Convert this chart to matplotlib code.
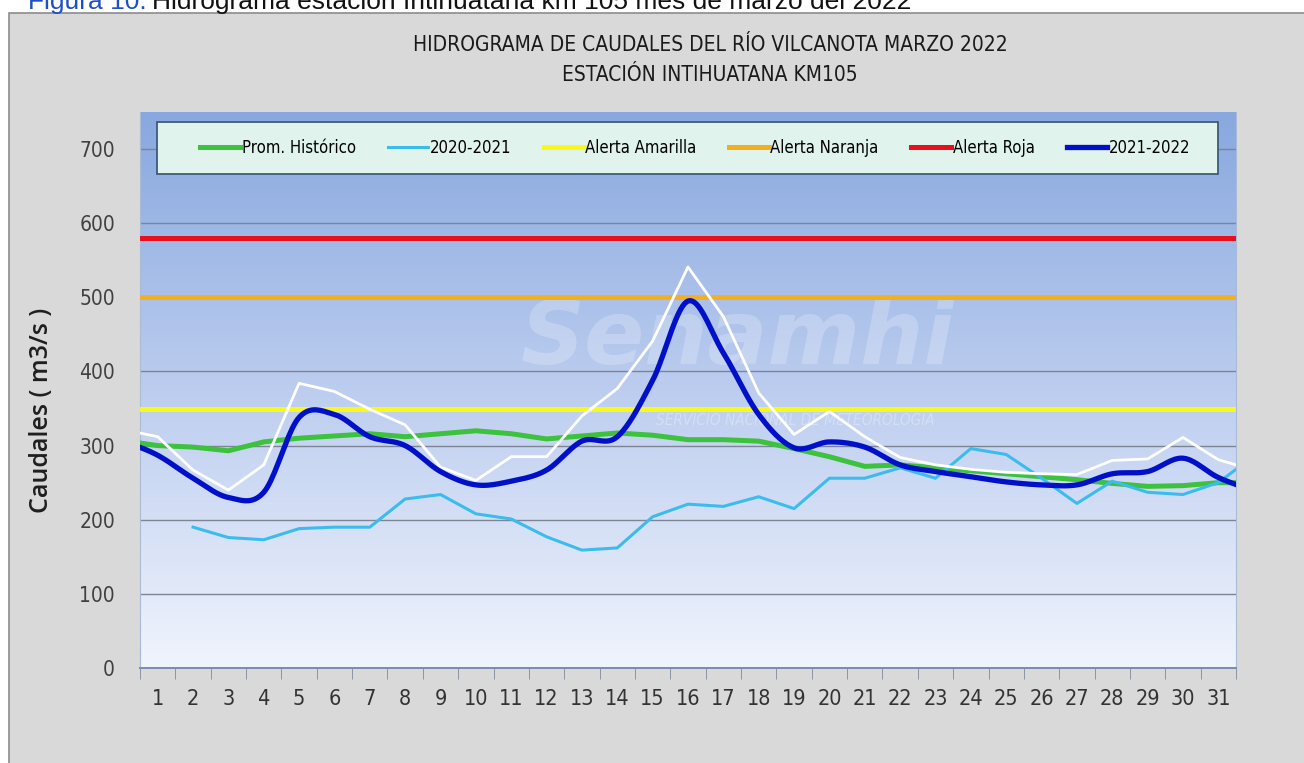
import numpy as np
import matplotlib.pyplot as plt
from matplotlib.patches import Rectangle

# dia 0 y dia 32 son los puntos de borde: el grafico se corta en 0.5 y 31.5
dias = np.arange(0, 33)
etiquetas = [str(d) for d in range(1, 32)]

prom_historico = [307, 300, 298, 293, 305, 310, 313, 316, 312, 316, 320, 316, 309, 313, 317, 314,
                  308, 308, 306, 296, 285, 272, 274, 270, 266, 262, 258, 254, 249, 245, 246, 250, 250]
caudal_2020_2021 = [np.nan, np.nan, 190, 176, 173, 188, 190, 190, 228, 234, 208, 201, 177, 159, 162,
                    204, 221, 218, 231, 215, 256, 256, 270, 256, 296, 288, 256, 222, 252, 237, 234,
                    250, 286]
caudal_2021_2022 = [307, 287, 256, 230, 237, 338, 342, 312, 300, 265, 247, 252, 267, 306, 312, 388,
                    495, 425, 342, 297, 305, 298, 274, 265, 258, 251, 247, 247, 262, 265, 283, 257, 239]
# serie blanca sin leyenda en el original
serie_blanca = [322, 312, 267, 240, 274, 384, 373, 349, 328, 271, 253, 285, 285, 340, 377, 441,
                541, 474, 371, 315, 346, 312, 284, 274, 268, 264, 262, 261, 280, 282, 311, 281, 267]

alerta_amarilla = 350
alerta_naranja = 500
alerta_roja = 580

NARROW = dict(family='DejaVu Sans', stretch='condensed')


def suavizar(x, y, n=20):
    # curva suavizada tipo excel (catmull-rom)
    x = np.asarray(x, float)
    y = np.asarray(y, float)
    px = np.concatenate([[2 * x[0] - x[1]], x, [2 * x[-1] - x[-2]]])
    py = np.concatenate([[2 * y[0] - y[1]], y, [2 * y[-1] - y[-2]]])
    xs, ys = [], []
    t = np.linspace(0, 1, n, endpoint=False)
    for i in range(1, len(px) - 2):
        for arr, out in ((px, xs), (py, ys)):
            p0, p1, p2, p3 = arr[i - 1], arr[i], arr[i + 1], arr[i + 2]
            out.append(0.5 * (2 * p1 + (-p0 + p2) * t + (2 * p0 - 5 * p1 + 4 * p2 - p3) * t ** 2
                              + (-p0 + 3 * p1 - 3 * p2 + p3) * t ** 3))
    xs.append([x[-1]])
    ys.append([y[-1]])
    return np.concatenate(xs), np.concatenate(ys)


fig = plt.figure(figsize=(13.04, 7.63), dpi=100, facecolor='white')

# marco gris del grafico
fig.patches.append(Rectangle((9 / 1304, -0.01), 1.0, 0.9836 + 0.01, transform=fig.transFigure,
                             facecolor='#d9d9d9', edgecolor='#8c8c8c', linewidth=1.2, zorder=-5))

# leyenda superior del documento (cortada)
t1 = fig.text(28 / 1304, 1 - 9 / 763, 'Figura 10.', color='#1f4fc4', fontsize=19,
              family='Liberation Sans', va='baseline', ha='left')
fig.canvas.draw()
bb = t1.get_window_extent()
fig.text(bb.x1 / 1304 + 0.004, 1 - 9 / 763,
         'Hidrograma estación Intihuatana km 105 mes de marzo del 2022',
         color='#111111', fontsize=19, family='Liberation Sans', va='baseline', ha='left')

ax = fig.add_axes([140 / 1304, (763 - 668) / 763, 1096 / 1304, 556 / 763])
ax.set_zorder(2)
ax.set_xlim(0.5, 31.5)
ax.set_ylim(0, 750)

# fondo degradado
c_top = np.array([136, 168, 223]) / 255
c_mid = np.array([188, 205, 239]) / 255
c_bot = np.array([240, 244, 253]) / 255
f = np.linspace(0, 1, 300)[:, None]
grad = np.where(f < 0.5, c_top + (c_mid - c_top) * (f / 0.5), c_mid + (c_bot - c_mid) * ((f - 0.5) / 0.5))
ax.imshow(grad[:, None, :], extent=(0.5, 31.5, 0, 750), aspect='auto', zorder=0, origin='upper')

# marca de agua
ax.text(0.545, 0.59, 'Senamhi', transform=ax.transAxes, fontsize=64, fontweight='bold',
        style='italic', color='white', alpha=0.22, ha='center', va='center', zorder=1,
        family='DejaVu Sans')
ax.text(0.598, 0.446, 'SERVICIO NACIONAL DE METEOROLOGÍA', transform=ax.transAxes, fontsize=11,
        style='italic', color='white', alpha=0.3, ha='center', va='center', zorder=1,
        **NARROW)

for v in range(100, 800, 100):
    ax.axhline(v, color='#7c8591', linewidth=1.0, zorder=2)

ax.axhline(alerta_roja, color='#e8101c', linewidth=3.6, zorder=3, label='Alerta Roja')
ax.axhline(alerta_naranja, color='#f2b01e', linewidth=3.6, zorder=3, label='Alerta Naranja')
ax.axhline(alerta_amarilla, color='#f8f81a', linewidth=3.6, zorder=3, label='Alerta Amarilla')

ax.plot(dias, prom_historico, color='#3cc23c', linewidth=3.6, zorder=4, label='Prom. Histórico')
ax.plot(dias, caudal_2020_2021, color='#3cbcec', linewidth=2.2, zorder=5, label='2020-2021')
ax.plot(dias, serie_blanca, color='white', linewidth=2.0, zorder=6)
xs, ys = suavizar(dias, caudal_2021_2022)
ax.plot(xs, ys, color='#0010c8', linewidth=3.8, zorder=7, label='2021-2022')

# recuadro de la leyenda
ax.add_patch(Rectangle((17 / 1096, (668 - 174) / 556), 1061 / 1096, 52 / 556, transform=ax.transAxes,
                       facecolor='#e0f3ec', edgecolor='#3e5b7a', linewidth=1.3, zorder=9))

handles, labels = ax.get_legend_handles_labels()
orden = ['Prom. Histórico', '2020-2021', 'Alerta Amarilla', 'Alerta Naranja', 'Alerta Roja', '2021-2022']
hmap = dict(zip(labels, handles))
leg = ax.legend([hmap[k] for k in orden], orden, loc='center left',
                bbox_to_anchor=(60 / 1096, (668 - 148) / 556, 990 / 1096, 0.0),
                mode='expand', ncol=6, borderaxespad=0, frameon=False,
                handlelength=2.4, handletextpad=0.1, borderpad=0.0,
                prop=dict(size=12, **NARROW))
leg.set_zorder(10)

ax.set_xticks(range(1, 32))
ax.set_xticklabels(etiquetas, fontsize=15.5, color='#333333', **NARROW)
ax.set_xticks(np.arange(0.5, 32, 1), minor=True)
ax.tick_params(axis='x', which='major', length=0, pad=15)
ax.tick_params(axis='x', which='minor', length=8, color='#7f8a99', direction='out')
ax.set_yticks(range(0, 800, 100))
ax.set_yticklabels([str(v) for v in range(0, 800, 100)], fontsize=15, color='#404040', **NARROW)
ax.tick_params(axis='y', length=0, pad=18)

for s in ('left', 'right'):
    ax.spines[s].set_color('#a9bcd6')
ax.spines['top'].set_visible(False)
ax.spines['bottom'].set_color('#7a8ca8')
ax.spines['bottom'].set_linewidth(1.4)

fig.text(42 / 1304, 1 - 410 / 763, 'Caudales ( m3/s )', rotation=90, fontsize=18,
         family='Open Sans', fontweight='semibold', color='#1e1e1e', ha='center', va='center')

fig.text(710 / 1304, 1 - 45 / 763, 'HIDROGRAMA DE CAUDALES DEL RÍO VILCANOTA MARZO 2022',
         fontsize=15, color='#1a1a1a', ha='center', va='center', **NARROW)
fig.text(710 / 1304, 1 - 75 / 763, 'ESTACIÓN INTIHUATANA KM105',
         fontsize=15, color='#1a1a1a', ha='center', va='center', **NARROW)

fig.savefig('out.png', dpi=100, facecolor='white')
